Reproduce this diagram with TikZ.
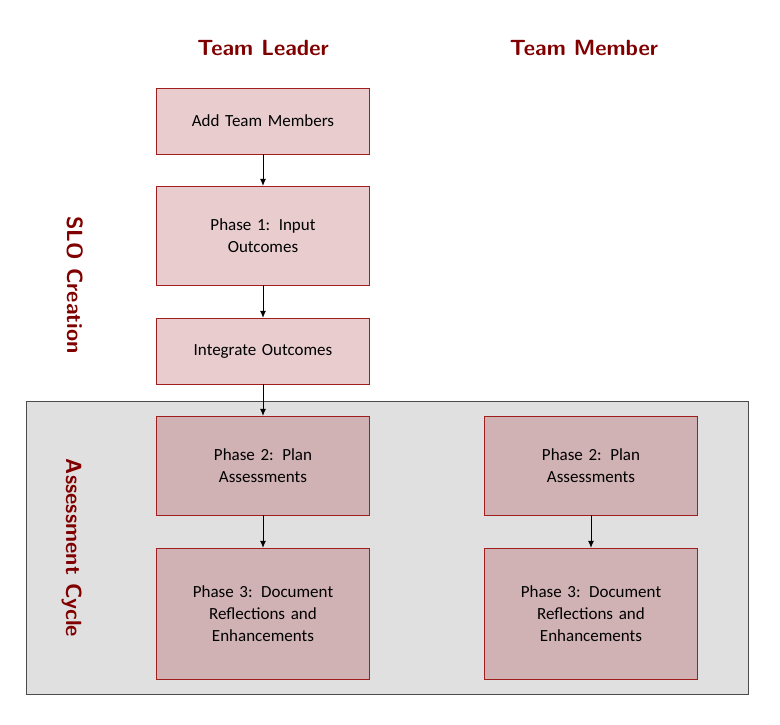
\documentclass[tikz,border=0pt]{standalone}
\usepackage{fontspec}
\setmainfont{Carlito}
\usetikzlibrary{arrows.meta, positioning}
\definecolor{sloframe}{RGB}{160, 30, 30}
\definecolor{slofill}{RGB}{232, 204, 206}
\definecolor{cyclefill}{RGB}{208, 178, 180}
\definecolor{headred}{RGB}{128, 0, 0}
\definecolor{cyclegray}{RGB}{224, 224, 224}

\begin{document}
\begin{tikzpicture}[x=1pt, y=-1pt,
    phasebox/.style={draw=sloframe, fill=slofill, minimum width=213pt, text width=200pt,
      align=center, font=\fontsize{17}{22}\selectfont},
    cyclebox/.style={phasebox, fill=cyclefill},
    header/.style={text=headred, font=\sffamily\bfseries\fontsize{22}{26}\selectfont},
    sidelabel/.style={text=headred, rotate=-90, font=\sffamily\bfseries\fontsize{22}{26}\selectfont},
    flow/.style={-{Latex[length=7pt, width=6pt]}, thick}]
  \useasboundingbox (0,0) rectangle (780,725);
  \draw[fill=cyclegray, draw=black!70] (26,401) rectangle (748,694);

  \node[header] (leader) at (263,48) {Team Leader};
  \node[header] (member) at (584,48) {Team Member};
  \node[sidelabel] (slo) at (75,285) {SLO Creation};
  \node[sidelabel] (cycle) at (72,548) {Assessment Cycle};

  % team leader
  \node[phasebox, minimum height=66pt] (add) at (263,121) {Add Team Members};
  \node[phasebox, minimum height=99pt] (input) at (263,235.5) {Phase 1: Input\\Outcomes};
  \node[phasebox, minimum height=66pt] (integrate) at (263,351) {Integrate Outcomes};
  \node[cyclebox, minimum height=99pt] (planL) at (263,465.5) {Phase 2: Plan\\Assessments};
  \node[cyclebox, minimum height=131pt] (docL) at (263,613.5) {Phase 3: Document\\Reflections and\\Enhancements};

  % team member
  \node[cyclebox, minimum height=99pt] (planM) at (591,465.5) {Phase 2: Plan\\Assessments};
  \node[cyclebox, minimum height=131pt] (docM) at (591,613.5) {Phase 3: Document\\Reflections and\\Enhancements};

  \draw[flow] (add) -- (input);
  \draw[flow] (input) -- (integrate);
  \draw[flow] (integrate) -- (planL);
  \draw[flow] (planL) -- (docL);
  \draw[flow] (planM) -- (docM);
\end{tikzpicture}
\end{document}
